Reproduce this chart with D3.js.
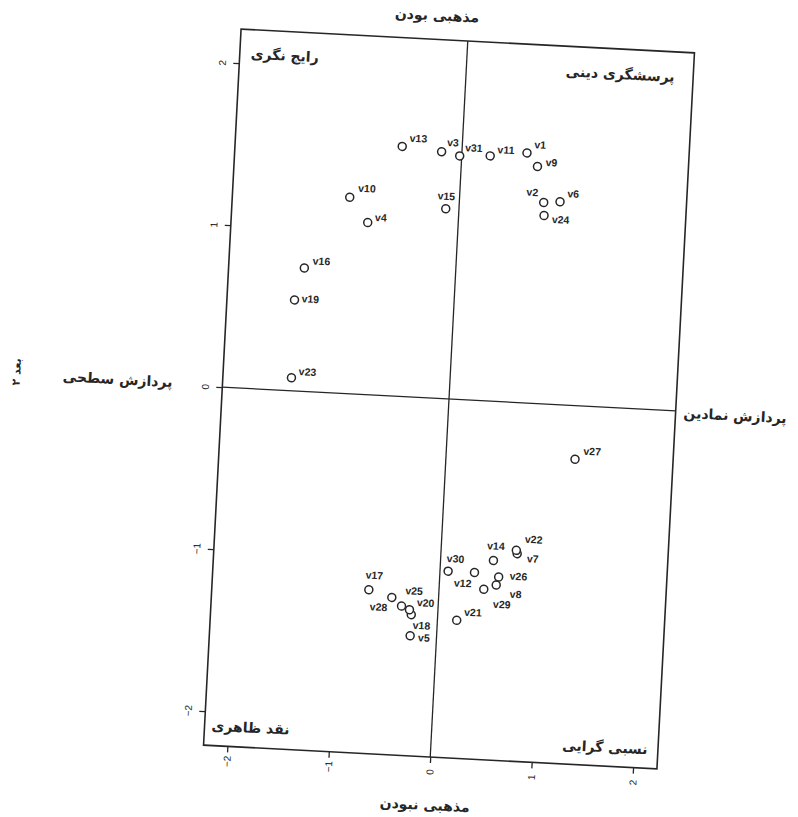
<!DOCTYPE html>
<html>
<head>
<meta charset="utf-8">
<script src="https://cdn.jsdelivr.net/npm/d3@7"></script>
<style>
    body { margin: 0; background: #fff; }
    svg { display: block; }
</style>
</head>
<body>
<svg id="chart"></svg>
<script>
// point names and coordinates on the two dimensions
const names = ['v1', 'v2', 'v3', 'v4', 'v5', 'v6', 'v7', 'v8', 'v9', 'v10',
    'v11', 'v12', 'v13', 'v14', 'v15', 'v16', 'v17', 'v18', 'v19', 'v20',
    'v21', 'v22', 'v23', 'v24', 'v25', 'v26', 'v27', 'v28', 'v29', 'v30', 'v31'];
const dim1 = [0.64, 0.83, -0.20, -0.89, -0.26, 0.99, 0.75, 0.56, 0.75, -1.08,
    0.28, 0.34, -0.59, 0.52, -0.13, -1.49, -0.69, -0.26, -1.57, -0.28,
    0.19, 0.74, -1.56, 0.84, -0.36, 0.58, 1.27, -0.46, 0.44, 0.08, -0.02];
const dim2 = [1.54, 1.24, 1.52, 1.06, -1.47, 1.25, -0.93, -1.13, 1.46, 1.21,
    1.51, -1.06, 1.54, -0.98, 1.17, 0.76, -1.20, -1.34, 0.56, -1.31,
    -1.36, -0.91, 0.08, 1.16, -1.29, -1.08, -0.33, -1.24, -1.16, -1.06, 1.50];

const xTicks = [-2, -1, 0, 1, 2];
const yTicks = [-2, -1, 0, 1, 2];

// corner (quadrant) labels: top-left, top-right, bottom-left, bottom-right
const quadrantLabels = ['رایج نگری', 'پرسشگری دینی', 'نقد ظاهری', 'نسبی گرایی'];
const poleTop = 'مذهبی بودن';
const poleBottom = 'مذهبی نبودن';
const poleLeft = 'پردازش سطحی';
const poleRight = 'پردازش نمادین';
const yTitle = 'بعد ۲';

// label placement next to each circle (pixel offsets, layout only)
const labelPlace = {
    v1: [7, -5], v2: [-6, -6, 'end'], v3: [5, -6], v4: [7, -2], v5: [8, 5],
    v6: [7, -5], v7: [10, 8], v8: [14, 12], v9: [8, -1], v10: [8, -6],
    v11: [7, -3], v12: [-20, 15], v13: [7, -5], v14: [-7, -11], v15: [0, -9, 'middle'],
    v16: [8, -4], v17: [-4, -11], v18: [2, 14], v19: [7, 2], v20: [7, -4],
    v21: [7, -5], v22: [8, -8], v23: [7, -3], v24: [8, 7], v25: [3, -12],
    v26: [11, 2], v27: [8, -5], v28: [-4, 14, 'end'], v29: [10, 18], v30: [-2, -9],
    v31: [5, -5]
};

const ink = '#262626';
const persianFont = '"DejaVu Sans", sans-serif';

const svg = d3.select('#chart')
    .attr('width', 798)
    .attr('height', 817);

svg.append('rect')
    .attr('width', 798)
    .attr('height', 817)
    .attr('fill', '#fff');

const W = 454, H = 717;

// the scanned page is tilted a little, so the whole plot sits in a rotated group
const plot = svg.append('g')
    .attr('transform', `translate(449, 399) rotate(3) translate(${-W / 2}, ${-H / 2})`);

const x = d3.scaleLinear().domain([-2.235, 2.235]).range([0, W]);
const y = d3.scaleLinear().domain([-2.21, 2.21]).range([H, 0]);

// axes with rotated tick labels
const xAxis = plot.append('g')
    .attr('transform', `translate(0, ${H})`)
    .call(d3.axisBottom(x).tickValues(xTicks).tickSize(6).tickFormat(d3.format('d')));

const yAxis = plot.append('g')
    .call(d3.axisLeft(y).tickValues(yTicks).tickSize(6).tickFormat(d3.format('d')));

[xAxis, yAxis].forEach((a) => {
    a.select('.domain').remove();
    a.selectAll('line').attr('stroke', ink).attr('stroke-width', 1.3);
    a.selectAll('text')
        .attr('fill', ink)
        .attr('font-family', '"Liberation Sans", sans-serif')
        .attr('font-size', 10);
});

xAxis.selectAll('text')
    .attr('y', null).attr('dy', null)
    .attr('text-anchor', 'middle')
    .attr('dominant-baseline', 'central')
    .attr('transform', 'translate(0, 15) rotate(-90)');

yAxis.selectAll('text')
    .attr('x', null).attr('dy', null)
    .attr('text-anchor', 'middle')
    .attr('dominant-baseline', 'central')
    .attr('transform', 'translate(-17, 0) rotate(-90)');

// frame and the two zero lines
plot.append('rect')
    .attr('width', W)
    .attr('height', H)
    .attr('fill', 'none')
    .attr('stroke', ink)
    .attr('stroke-width', 1.6);

plot.append('line')
    .attr('x1', 0).attr('x2', W)
    .attr('y1', y(0)).attr('y2', y(0))
    .attr('stroke', ink)
    .attr('stroke-width', 1.3);

plot.append('line')
    .attr('x1', x(0)).attr('x2', x(0))
    .attr('y1', 0).attr('y2', H)
    .attr('stroke', ink)
    .attr('stroke-width', 1.3);

// points
const points = names.map((n, i) => ({name: n, d1: dim1[i], d2: dim2[i]}));

const dots = plot.append('g').selectAll('circle').data(points, d => d.name);
dots.enter().append('circle')
    .attr('cx', d => x(d.d1))
    .attr('cy', d => y(d.d2))
    .attr('r', 4)
    .attr('fill', '#fff')
    .attr('stroke', ink)
    .attr('stroke-width', 1.5);

const tags = plot.append('g').selectAll('text').data(points, d => d.name);
tags.enter().append('text')
    .text(d => d.name)
    .attr('x', d => x(d.d1) + (labelPlace[d.name] || [7, -4])[0])
    .attr('y', d => y(d.d2) + (labelPlace[d.name] || [7, -4])[1])
    .attr('text-anchor', d => (labelPlace[d.name] || [])[2] || 'start')
    .attr('font-family', '"Liberation Sans", sans-serif')
    .attr('font-weight', 'bold')
    .attr('font-size', 10.5)
    .attr('fill', ink);

// quadrant names inside the frame
const quadPos = [[45, 24], [381, 25], [46, 697], [401, 698]];
plot.append('g').selectAll('text').data(quadrantLabels)
    .enter().append('text')
    .text(d => d)
    .attr('x', (d, i) => quadPos[i][0])
    .attr('y', (d, i) => quadPos[i][1])
    .attr('text-anchor', 'middle')
    .attr('dominant-baseline', 'central')
    .attr('font-family', persianFont)
    .attr('font-weight', 'bold')
    .attr('font-size', 14)
    .attr('fill', ink);

// pole names outside the frame
function pole(text, px, py, anchor) {
    plot.append('text')
        .text(text)
        .attr('x', px)
        .attr('y', py)
        .attr('text-anchor', anchor)
        .attr('dominant-baseline', 'central')
        .attr('font-family', persianFont)
        .attr('font-weight', 'bold')
        .attr('font-size', 14)
        .attr('fill', ink);
}
pole(poleTop, 195, -24, 'middle');
pole(poleBottom, 224, 765, 'middle');
pole(poleLeft, -50, 356, 'end');
pole(poleRight, 462, 360, 'start');

plot.append('text')
    .text(yTitle)
    .attr('transform', 'translate(-206, 354) rotate(-90)')
    .attr('text-anchor', 'middle')
    .attr('dominant-baseline', 'central')
    .attr('font-family', persianFont)
    .attr('font-weight', 'bold')
    .attr('font-size', 11)
    .attr('fill', ink);
</script>
</body>
</html>
